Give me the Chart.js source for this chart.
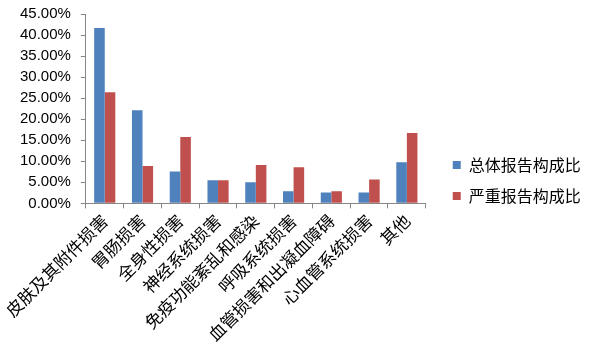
<!DOCTYPE html>
<html>
<head>
<meta charset="utf-8">
<script src="https://cdn.jsdelivr.net/npm/chart.js@4/dist/chart.umd.min.js"></script>
<style>
  html, body { margin: 0; padding: 0; background: #fff; }
  #chart-container { width: 597px; height: 354px; position: relative; }
</style>
</head>
<body>
<div id="chart-container"><canvas id="chart"></canvas></div>
<script>
var categories = ['皮肤及其附件损害', '胃肠损害', '全身性损害', '神经系统损害', '免疫功能紊乱和感染',
    '呼吸系统损害', '血管损害和出凝血障碍', '心血管系统损害', '其他'];
var seriesNames = ['总体报告构成比', '严重报告构成比'];
var totalValues = [41.7, 22.1, 7.6, 5.5, 5.0, 2.9, 2.6, 2.6, 9.8];
var seriousValues = [26.4, 8.9, 15.8, 5.5, 9.1, 8.6, 2.9, 5.7, 16.7];
var yTicks = [0, 5, 10, 15, 20, 25, 30, 35, 40, 45];

// 图例加宽并右移，留出与绘图区之间的空隙
var legendGap = {
    id: 'legendGap',
    beforeInit: function(chart) {
        var legend = chart.legend;
        var fit = legend.fit;
        legend.fit = function() {
            fit.call(this);
            this.width += 17;
        };
    },
    afterLayout: function(chart) {
        chart.legend.left += 12;
        chart.legend.right += 12;
    }
};

document.addEventListener("DOMContentLoaded", function() {
    var ctx = document.getElementById('chart').getContext('2d');
    var axisColor = '#868686';

    var chart = new Chart(ctx, {
        type: 'bar',
        data: {
            labels: categories,
            datasets: [{
                label: seriesNames[0],
                data: totalValues,
                backgroundColor: '#4F81BD'
            }, {
                label: seriesNames[1],
                data: seriousValues,
                backgroundColor: '#C0504D'
            }]
        },
        plugins: [legendGap],
        options: {
            responsive: true,
            maintainAspectRatio: false,
            animation: false,
            categoryPercentage: 0.56,
            barPercentage: 1.0,
            layout: { padding: { top: 14, left: 10, right: 10, bottom: 7 } },
            plugins: {
                tooltip: { enabled: false },
                legend: {
                    position: 'right',
                    labels: {
                        boxWidth: 8,
                        boxHeight: 8,
                        padding: 15,
                        color: '#000',
                        font: { family: '"Noto Sans CJK SC"', size: 16 }
                    }
                }
            },
            scales: {
                x: {
                    grid: {
                        drawOnChartArea: false,
                        drawTicks: true,
                        tickLength: 5,
                        color: axisColor
                    },
                    border: { color: axisColor },
                    ticks: {
                        minRotation: 45,
                        maxRotation: 45,
                        autoSkip: false,
                        color: '#000',
                        padding: 2,
                        font: { family: '"Noto Sans CJK SC"', size: 17 }
                    }
                },
                y: {
                    min: 0,
                    max: 45,
                    afterBuildTicks: function(axis) {
                        axis.ticks = yTicks.map(function(v) { return { value: v }; });
                    },
                    afterFit: function(scale) {
                        scale.paddingTop = 0;
                    },
                    grid: {
                        drawOnChartArea: false,
                        drawTicks: true,
                        tickLength: 5,
                        color: axisColor
                    },
                    border: { color: axisColor },
                    ticks: {
                        autoSkip: false,
                        color: '#000',
                        padding: 10,
                        font: { family: '"Liberation Sans", Arial', size: 15 },
                        callback: function(v) { return v.toFixed(2) + '%'; }
                    }
                }
            }
        }
    });
});
</script>
</body>
</html>
